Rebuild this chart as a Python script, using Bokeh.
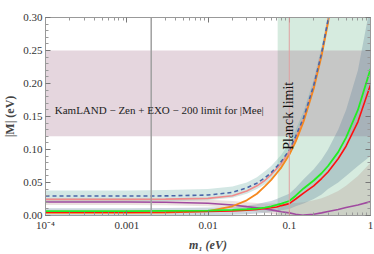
import numpy as np
from bokeh.plotting import figure
from bokeh.models import (LogAxis, LinearAxis, FixedTicker, Range1d, Span, Label)
from bokeh.embed import file_html
from bokeh.resources import INLINE

# ---------------- data ----------------
m1 = [1e-4, 3e-4, 1e-3, 3e-3, 0.01, 0.02, 0.03, 0.04, 0.05, 0.06, 0.07, 0.08, 0.1, 0.12, 0.15, 0.2, 0.25, 0.3, 0.4, 0.5, 0.7, 1.0]

blue_dashed = [0.0295, 0.0295, 0.0295, 0.0297, 0.031, 0.035, 0.042, 0.049, 0.057, 0.065, 0.074, 0.082, 0.099, 0.120, 0.148, 0.197, 0.246, 0.296, 0.395, 0.49, 0.69, 0.99]
pink_line   = [0.0245, 0.0245, 0.0245, 0.0248, 0.026, 0.030, 0.037, 0.045, 0.053, 0.062, 0.071, 0.079, 0.097, 0.117, 0.146, 0.196, 0.245, 0.295, 0.394, 0.49, 0.69, 0.99]
orange_line = [0.004, 0.004, 0.004, 0.0045, 0.0065, 0.014, 0.023, 0.033, 0.044, 0.054, 0.064, 0.073, 0.092, 0.112, 0.142, 0.192, 0.242, 0.292, 0.390, 0.49, 0.69, 0.99]
green_line  = [0.0065, 0.0065, 0.0065, 0.007, 0.0075, 0.0085, 0.0095, 0.0105, 0.012, 0.014, 0.016, 0.018, 0.022, 0.030, 0.041, 0.053, 0.064, 0.075, 0.096, 0.118, 0.160, 0.222]
red_line    = [0.005, 0.005, 0.005, 0.0053, 0.006, 0.007, 0.008, 0.009, 0.0105, 0.0118, 0.013, 0.015, 0.018, 0.025, 0.034, 0.045, 0.056, 0.066, 0.086, 0.105, 0.142, 0.198]
purple_line = [0.0205, 0.0205, 0.0205, 0.020, 0.0185, 0.016, 0.0135, 0.0118, 0.010, 0.0085, 0.007, 0.0058, 0.004, 0.002, 0.0005, 0.002, 0.004, 0.006, 0.009, 0.012, 0.016, 0.021]

blue_band_lo = [0.021, 0.021, 0.021, 0.0215, 0.023, 0.027, 0.033, 0.040, 0.047, 0.055, 0.064, 0.072, 0.090, 0.110, 0.140, 0.190, 0.240, 0.290, 0.385, 0.48, 0.68, 0.98]
blue_band_hi = [0.038, 0.038, 0.038, 0.0385, 0.040, 0.044, 0.050, 0.058, 0.067, 0.075, 0.084, 0.092, 0.110, 0.130, 0.158, 0.206, 0.256, 0.304, 0.405, 0.50, 0.70, 1.00]
gr_band_lo   = [0.0, 0.0, 0.0, 0.0, 0.0, 0.001, 0.002, 0.003, 0.004, 0.005, 0.006, 0.008, 0.010, 0.014, 0.018, 0.025, 0.032, 0.040, 0.050, 0.060, 0.075, 0.090]
gr_band_hi   = [0.011, 0.011, 0.011, 0.0115, 0.012, 0.013, 0.015, 0.017, 0.020, 0.022, 0.025, 0.028, 0.033, 0.042, 0.055, 0.070, 0.085, 0.100, 0.130, 0.160, 0.220, 0.320]
pu_band_lo   = [0.016, 0.016, 0.016, 0.0155, 0.014, 0.011, 0.008, 0.006, 0.004, 0.0025, 0.001, 0.0, 0.0, 0.0, 0.0, 0.0, 0.0, 0.0, 0.0, 0.0, 0.0, 0.0]
pu_band_hi   = [0.026, 0.026, 0.026, 0.0255, 0.024, 0.022, 0.020, 0.019, 0.018, 0.018, 0.018, 0.018, 0.018, 0.019, 0.020, 0.023, 0.026, 0.030, 0.037, 0.045, 0.060, 0.080]

kamland_lo, kamland_hi = 0.12, 0.25
planck_region_lo = 0.072
planck_line_x = 0.1
gray_line_x = 0.002

x_ticks = [1e-4, 1e-3, 1e-2, 1e-1, 1.0]
x_tick_labels = ["10\u207b\u2074", "0.001", "0.01", "0.1", "1"]
y_ticks = [0.0, 0.05, 0.10, 0.15, 0.20, 0.25, 0.30]
y_tick_labels = ["0.00", "0.05", "0.10", "0.15", "0.20", "0.25", "0.30"]

# ---------------- figure ----------------
FONT = "'Liberation Serif', 'Times New Roman', serif"
p = figure(width=374, height=254, x_axis_type="log", output_backend="svg",
           toolbar_location=None, x_range=Range1d(1e-4, 1.0), y_range=Range1d(0.0, 0.30),
           min_border_left=44, min_border_right=4, min_border_top=17, min_border_bottom=36)
p.background_fill_color = "white"
p.xgrid.visible = False
p.ygrid.visible = False
p.outline_line_color = "#999999"

minor_x = [k * 10.0 ** e for e in range(-4, 0) for k in range(2, 10)]
minor_y = [i * 0.01 for i in range(31) if i % 5 != 0]

def style_axis(ax, labels=True):
    ax.axis_line_color = "#999999"
    ax.major_tick_line_color = "#777777"
    ax.minor_tick_line_color = "#999999"
    ax.major_tick_in = 5
    ax.major_tick_out = 0
    ax.minor_tick_in = 3
    ax.minor_tick_out = 0
    ax.major_label_text_font = FONT
    if labels:
        ax.major_label_text_font_size = "11px"
        ax.major_label_text_color = "#333333"
        ax.major_label_standoff = 3
    else:
        ax.major_label_text_font_size = "1px"
        ax.major_label_text_alpha = 0.0
        ax.major_label_standoff = 0

xt = FixedTicker(ticks=x_ticks, minor_ticks=minor_x)
yt = FixedTicker(ticks=y_ticks, minor_ticks=minor_y)

xa = p.xaxis[0]
xa.ticker = xt
xa.major_label_overrides = {t: l for t, l in zip(x_ticks, x_tick_labels)}
style_axis(xa)
xa.axis_label = "m\u2081 (eV)"
xa.axis_label_text_font = FONT
xa.axis_label_text_font_style = "bold italic"
xa.axis_label_text_font_size = "12px"
xa.axis_label_standoff = 4

ya = p.yaxis[0]
ya.ticker = yt
ya.major_label_overrides = {t: l for t, l in zip(y_ticks, y_tick_labels)}
style_axis(ya)
ya.axis_label = "|M| (eV)"
ya.axis_label_text_font = FONT
ya.axis_label_text_font_style = "bold"
ya.axis_label_text_font_size = "12px"
ya.axis_label_standoff = 3

top = LogAxis(ticker=FixedTicker(ticks=x_ticks, minor_ticks=minor_x))
style_axis(top, labels=False)
p.add_layout(top, "above")
right = LinearAxis(ticker=FixedTicker(ticks=y_ticks, minor_ticks=minor_y))
style_axis(right, labels=False)
p.add_layout(right, "right")

# ---------------- regions ----------------
p.quad(left=planck_region_lo, right=1.0, bottom=0.0, top=0.30,
       fill_color=(120, 190, 150), fill_alpha=0.30, line_color=None)
p.quad(left=1e-4, right=1.0, bottom=kamland_lo, top=kamland_hi,
       fill_color=(150, 90, 125), fill_alpha=0.25, line_color=None)

# ---------------- bands ----------------
p.varea(x=m1, y1=pu_band_lo, y2=pu_band_hi, fill_color=(170, 120, 110), fill_alpha=0.22)
p.varea(x=m1, y1=gr_band_lo, y2=gr_band_hi, fill_color=(110, 140, 160), fill_alpha=0.35)
p.varea(x=m1, y1=blue_band_lo, y2=blue_band_hi, fill_color=(110, 175, 165), fill_alpha=0.30)

# ---------------- lines ----------------
p.line(m1, purple_line, line_color="#a04aa0", line_width=1.6)
p.line(m1, pink_line, line_color="#f08a8a", line_width=1.6)
p.line(m1, orange_line, line_color="#f5891f", line_width=1.8)
p.line(m1, blue_dashed, line_color="#4a66a8", line_width=1.6, line_dash="4 3")
p.line(m1, red_line, line_color="#ff1010", line_width=1.6)
p.line(m1, green_line, line_color="#22ee22", line_width=1.8)

p.add_layout(Span(location=gray_line_x, dimension="height", line_color="#a0a0a0", line_width=1.5))
p.add_layout(Span(location=planck_line_x, dimension="height", line_color="#e0a0a0", line_width=1))

p.add_layout(Label(x=1.3e-4, y=0.16, text="KamLAND \u2212 Zen + EXO \u2212 200  limit  for |Mee|",
                   text_font=FONT, text_font_size="11px", text_color="#222222",
                   text_baseline="middle"))
p.add_layout(Label(x=planck_line_x, y=0.151, text="Planck limit", angle=np.pi / 2,
                   text_font=FONT, text_font_size="14px", text_color="#111111",
                   text_align="center", text_baseline="alphabetic", x_offset=-1))

open("out.html", "w").write(file_html(p, INLINE))
